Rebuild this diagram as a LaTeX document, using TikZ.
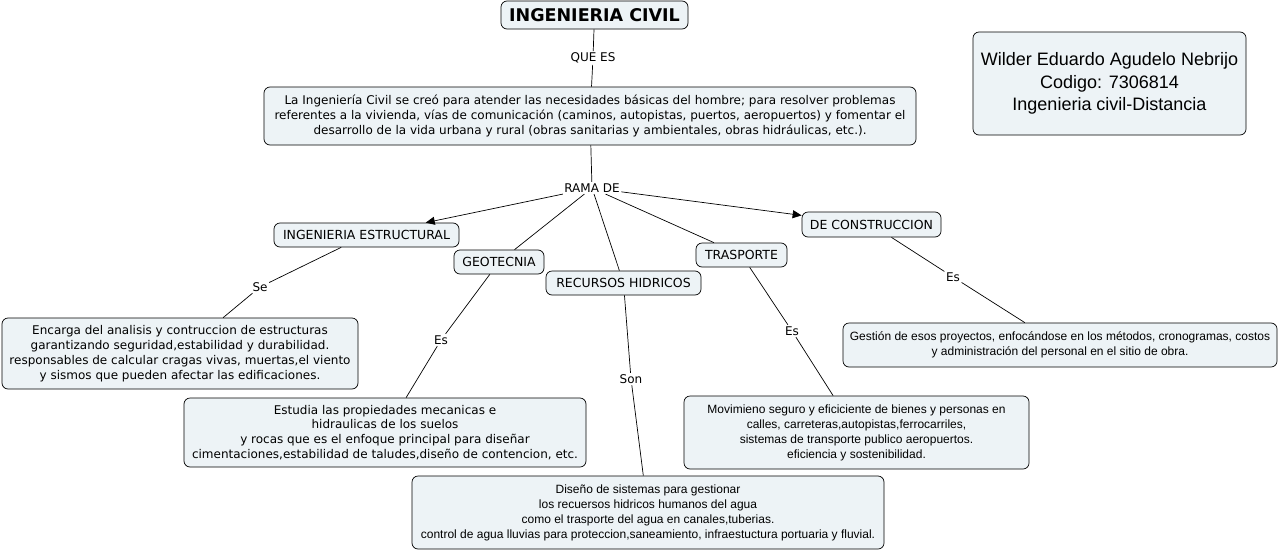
\documentclass[tikz,border=0pt]{standalone}
\usepackage{fontspec}
\setmainfont{DejaVu Sans}
\newfontfamily\arialfont{Liberation Sans}
\usetikzlibrary{arrows.meta}
\definecolor{cmapfill}{RGB}{237,243,246}
\tikzset{
  concept/.style={draw, line width=0.7pt, rounded corners=6pt, fill=cmapfill, align=center, inner sep=2pt, font=\fontsize{12}{14.8}\selectfont},
  arialbox/.style={font=\arialfont\fontsize{12}{15}\selectfont},
  linklabel/.style={inner sep=1.5pt, font=\fontsize{12}{14}\selectfont},
  link/.style={line width=0.7pt},
  linkarrow/.style={line width=0.7pt, -{Triangle[length=9pt,width=8pt]}}
}
\begin{document}
\begin{tikzpicture}[x=1pt,y=-1pt]
\useasboundingbox (0,0) rectangle (1280,552);
% conceptos
\node[concept, minimum width=187pt, minimum height=28pt, font=\bfseries\fontsize{17.5}{19}\selectfont] (civil) at (594.5,15) {INGENIERIA CIVIL};
\node[concept, minimum width=652pt, minimum height=58pt] (def) at (590,116) {La Ingeniería Civil se creó para atender las necesidades básicas del hombre; para resolver problemas\\referentes a la vivienda, vías de comunicación (caminos, autopistas, puertos, aeropuertos) y fomentar el\\desarrollo de la vida urbana y rural (obras sanitarias y ambientales, obras hidráulicas, etc.).};
\node[concept, minimum width=185pt, minimum height=24pt, font=\fontsize{12.5}{14}\selectfont] (estruc) at (366.5,235) {INGENIERIA ESTRUCTURAL};
\node[concept, minimum width=90pt, minimum height=24pt, font=\fontsize{12.5}{14}\selectfont] (geo) at (499,262) {GEOTECNIA};
\node[concept, minimum width=155pt, minimum height=24pt, font=\fontsize{12.5}{14}\selectfont] (hidr) at (623.5,283) {RECURSOS HIDRICOS};
\node[concept, minimum width=91pt, minimum height=24pt, font=\fontsize{12.5}{14}\selectfont] (trans) at (741.5,255) {TRASPORTE};
\node[concept, minimum width=139pt, minimum height=25pt, font=\fontsize{12.5}{14}\selectfont] (constr) at (871.5,224.5) {DE CONSTRUCCION};
\node[concept, minimum width=356pt, minimum height=71pt] (estrucdesc) at (180,353.5) {Encarga del analisis y contruccion de estructuras\\garantizando seguridad,estabilidad y durabilidad.\\responsables de calcular cragas vivas, muertas,el viento\\y sismos que pueden afectar las edificaciones.};
\node[concept, minimum width=402pt, minimum height=69pt] (geodesc) at (385,432.5) {Estudia las propiedades mecanicas e\\hidraulicas de los suelos\\y rocas que es el enfoque principal para diseñar\\cimentaciones,estabilidad de taludes,diseño de contencion, etc.};
\node[concept, arialbox, minimum width=472pt, minimum height=73pt] (hidrdesc) at (648,512.5) {Diseño de sistemas para gestionar\\los recuersos hidricos humanos del agua\\como el trasporte del agua en canales,tuberias.\\control de agua lluvias para proteccion,saneamiento, infraestuctura portuaria y fluvial.};
\node[concept, arialbox, minimum width=345pt, minimum height=73pt] (transdesc) at (856.5,432.5) {Movimieno seguro y eficiciente de bienes y personas en\\calles, carreteras,autopistas,ferrocarriles,\\sistemas de transporte publico aeropuertos.\\eficiencia y sostenibilidad.};
\node[concept, arialbox, minimum width=434pt, minimum height=44pt] (constrdesc) at (1060,345) {Gestión de esos proyectos, enfocándose en los métodos, cronogramas, costos\\y administración del personal en el sitio de obra.};
\node[concept, minimum width=273pt, minimum height=103pt, font=\arialfont\fontsize{18}{22.5}\selectfont] (autor) at (1109.5,83.5) {Wilder Eduardo Agudelo Nebrijo\\Codigo: 7306814\\Ingenieria civil-Distancia};
% frases de enlace
\node[linklabel] (quees) at (593,58) {QUE ES};
\node[linklabel] (rama) at (592,188) {RAMA DE};
\node[linklabel] (se) at (260,287) {Se};
\node[linklabel] (esgeo) at (441,340) {Es};
\node[linklabel] (son) at (631,379) {Son};
\node[linklabel] (estrans) at (792,331) {Es};
\node[linklabel] (esconstr) at (953,277) {Es};
% conexiones
\draw[link] (civil) -- (quees) -- (def);
\draw[link] (def) -- (rama);
\draw[linkarrow] (rama) -- (estruc);
\draw[link] (rama) -- (geo);
\draw[link] (rama) -- (hidr);
\draw[link] (rama) -- (trans);
\draw[linkarrow] (rama) -- (constr);
\draw[link] (estruc) -- (se) -- (estrucdesc);
\draw[link] (geo) -- (esgeo) -- (geodesc);
\draw[link] (hidr) -- (son) -- (hidrdesc);
\draw[link] (trans) -- (estrans) -- (transdesc);
\draw[link] (constr) -- (esconstr) -- (constrdesc);
\end{tikzpicture}
\end{document}
